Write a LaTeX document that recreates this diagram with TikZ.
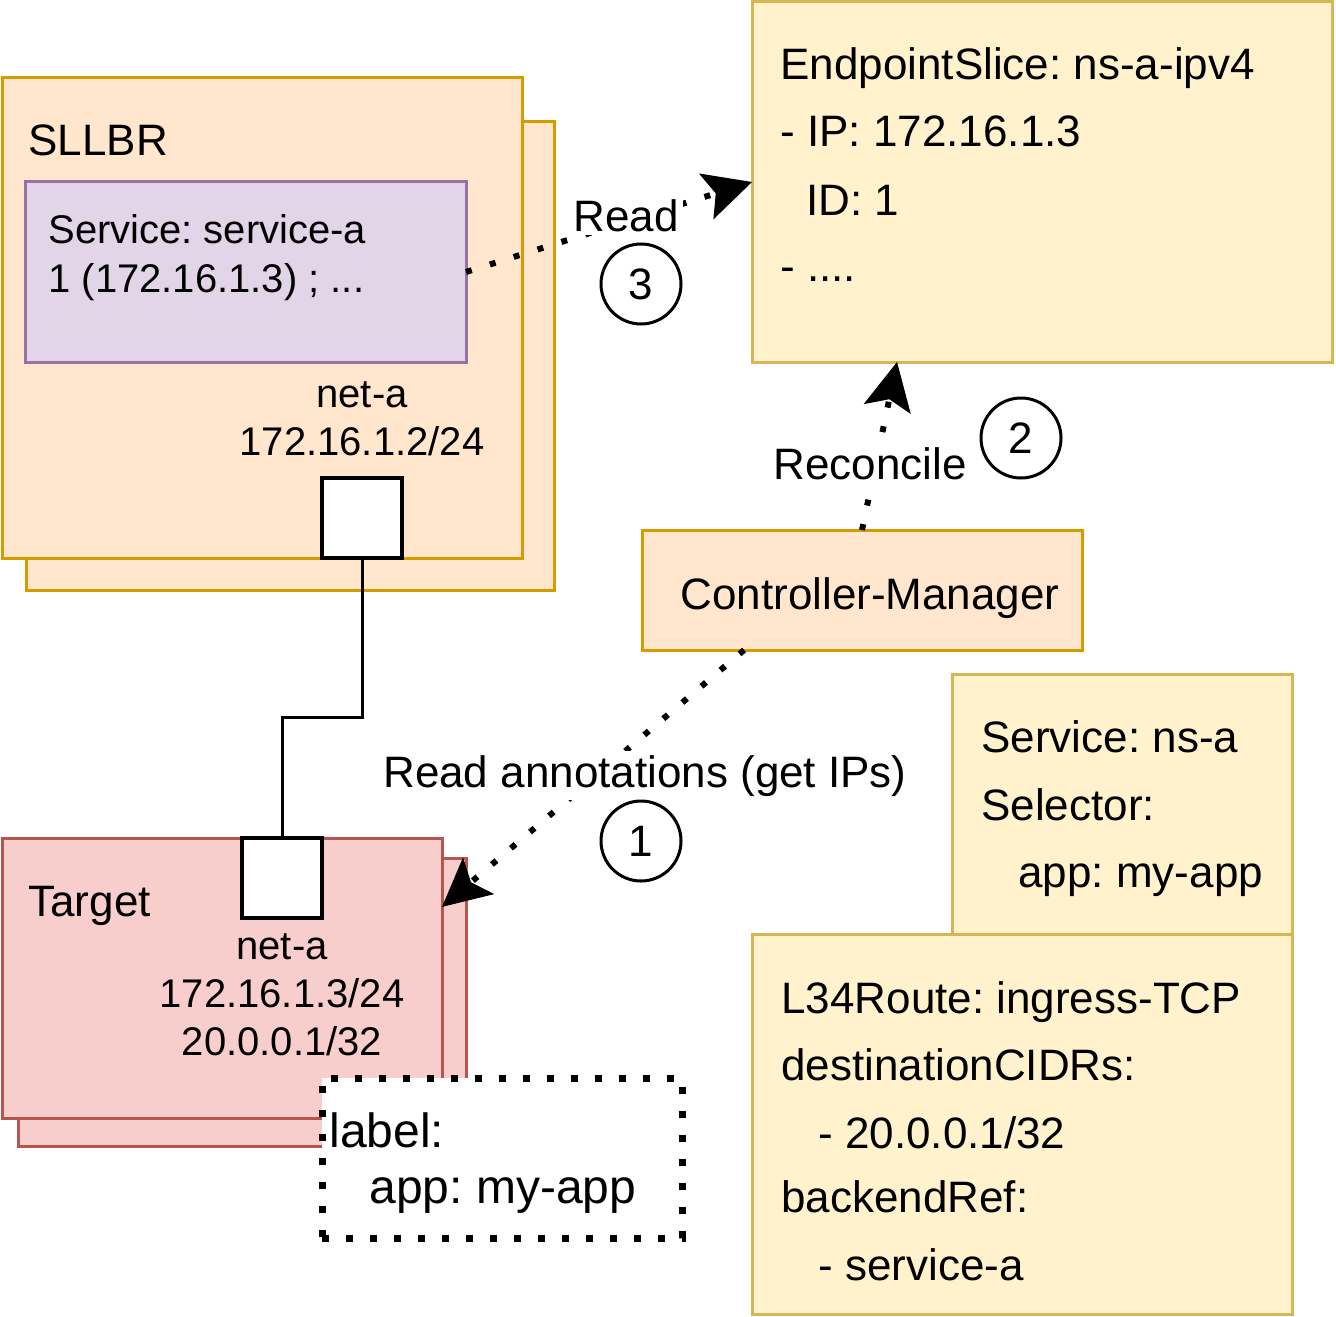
\documentclass[tikz,border=0pt]{standalone}
\usepackage{fontspec}
\setmainfont{Liberation Sans}
\usetikzlibrary{arrows.meta,calc}
\definecolor{orF}{HTML}{FFE6CC}
\definecolor{orD}{HTML}{D79B00}
\definecolor{puF}{HTML}{E1D5E7}
\definecolor{puD}{HTML}{9673A6}
\definecolor{reF}{HTML}{F8CECC}
\definecolor{reD}{HTML}{B85450}
\definecolor{yeF}{HTML}{FFF2CC}
\definecolor{yeD}{HTML}{D6B656}
\frenchspacing
\begin{document}
\begin{tikzpicture}[x=0.5pt,y=-0.5pt,
  font=\fontsize{22}{24}\selectfont,
  box/.style={draw, line width=1.5pt, inner sep=0pt, outer sep=0pt},
  orbox/.style={box, fill=orF, draw=orD},
  pubox/.style={box, fill=puF, draw=puD},
  rebox/.style={box, fill=reF, draw=reD},
  yebox/.style={box, fill=yeF, draw=yeD},
  port/.style={draw, line width=2pt, fill=white, inner sep=0pt, outer sep=0pt, minimum size=40pt},
  txt/.style={inner sep=0pt, anchor=base west},
  ctxt/.style={inner sep=0pt, anchor=base},
  small/.style={font=\fontsize{20}{22}\selectfont},
  big/.style={font=\fontsize{24}{26}\selectfont},
  lab/.style={fill=white, inner sep=2pt, anchor=base},
  num/.style={draw, circle, line width=1.5pt, fill=white, minimum size=40pt, inner sep=0pt},
  dotarrow/.style={line width=3pt, dash pattern=on 3pt off 9.5pt,
    -{Stealth[length=24pt,width=24pt,inset=5pt,line width=0.5pt]}},
  conn/.style={line width=1.5pt}
]
\useasboundingbox (0,0) rectangle (1336,1316);

% SLLBR
\node[orbox, minimum width=264pt, minimum height=234pt] (sllbrB) at (290,356) {};
\node[orbox, minimum width=260pt, minimum height=240pt] (sllbr) at (262,318) {};
\node[txt] (sllbrT) at (28,156) {SLLBR};
\node[pubox, minimum width=220.5pt, minimum height=90pt] (svc) at (245.5,272) {};
\node[txt, small] (svc1) at (48,243) {Service: service-a};
\node[txt, small] (svc2) at (48,292) {1 (172.16.1.3) ; ...};
\node[ctxt, small] (sn1) at (362,407) {net-a};
\node[ctxt, small] (sn2) at (362,455) {172.16.1.2/24};
\node[port] (sport) at (362,518) {};

% Target
\node[rebox, minimum width=224pt, minimum height=144pt] (tgtB) at (242,1002) {};
\node[rebox, minimum width=220pt, minimum height=140pt] (tgt) at (222,978) {};
\node[txt] (tgtT) at (28,916) {Target};
\node[port] (tport) at (282,878) {};
\node[ctxt, small] (tn1) at (282,959) {net-a};
\node[ctxt, small] (tn2) at (282,1007) {172.16.1.3/24};
\node[ctxt, small] (tn3) at (282,1055) {20.0.0.1/32};

% link between ports
\draw[conn] (sport.south) -- ++(0,159) -| (tport.north);

% label box
\node[draw, fill=white, line width=3.5pt, dash pattern=on 3.5pt off 8.5pt,
  inner sep=0pt, minimum width=180pt, minimum height=80pt] (lbl) at (502,1158) {};
\node[txt, big] (lbl1) at (329,1147) {label:};
\node[txt, big] (lbl2) at (369,1203) {app: my-app};

% Controller-Manager
\node[orbox, minimum width=220pt, minimum height=60pt] (cm) at (862,590) {};
\node[ctxt] (cmT) at (870,609) {Controller-Manager};

% EndpointSlice
\node[yebox, minimum width=290pt, minimum height=180pt] (ep) at (1042,182) {};
\node[txt] (ep1) at (780,80) {EndpointSlice: ns-a-ipv4};
\node[txt] (ep2) at (780,147) {- IP: 172.16.1.3};
\node[txt] (ep3) at (806,215) {ID: 1};
\node[txt] (ep4) at (780,281) {- ....};

% Service ns-a
\node[yebox, minimum width=170pt, minimum height=130pt] (sns) at (1122,804) {};
\node[txt] (sns1) at (981,752) {Service: ns-a};
\node[txt] (sns2) at (981,820) {Selector:};
\node[txt] (sns3) at (1018,887) {app: my-app};

% L34Route
\node[yebox, minimum width=270pt, minimum height=190pt] (l34) at (1022,1124) {};
\node[txt] (l341) at (781,1013) {L34Route: ingress-TCP};
\node[txt] (l342) at (781,1080) {destinationCIDRs:};
\node[txt] (l343) at (818,1148) {- 20.0.0.1/32};
\node[txt] (l344) at (781,1212) {backendRef:};
\node[txt] (l345) at (818,1280) {- service-a};

% arrows
\draw[dotarrow] (svc.east) -- (ep.west);
\draw[dotarrow] (cm.north) -- ($(ep.south west)!0.25!(ep.south east)$);
\draw[dotarrow] ($(cm.south west)!0.232!(cm.south east)$) -- ($(tgt.north east)!0.246!(tgt.south east)$);

% arrow labels
\node[lab] (rd) at (626,231) {Read};
\node[lab] (rc) at (870,479) {Reconcile};
\node[lab] (ra) at (645,787) {Read annotations (get IPs)};

% step numbers
\node[num] (c3) at (641,284) {3};
\node[num] (c2) at (1021,438) {2};
\node[num] (c1) at (641,841) {1};
\end{tikzpicture}
\end{document}
